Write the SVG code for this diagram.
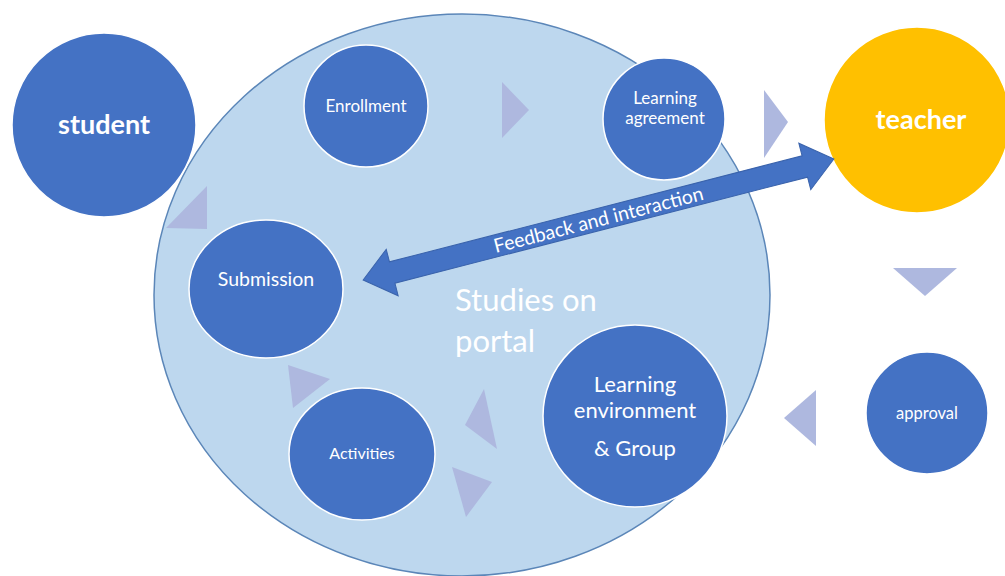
<svg xmlns="http://www.w3.org/2000/svg" width="1005" height="576" viewBox="0 0 1005 576">
  <style>
    .node { fill: #4472C4; stroke: #ffffff; stroke-width: 1.5; }
    .lbl { fill: #ffffff; font-family: Lato, "Open Sans", sans-serif; text-anchor: middle; }
    .step { fill: #AEB8DF; }
  </style>
  <rect width="1005" height="576" fill="#ffffff"/>

  <!-- portal area -->
  <g id="portal">
    <ellipse cx="462" cy="295" rx="308" ry="281" fill="#BDD7EE" stroke="#5B86B8" stroke-width="1.5"/>
    <text class="lbl" x="455" y="311" font-size="31" style="text-anchor:start">Studies on</text>
    <text class="lbl" x="455" y="352" font-size="31" style="text-anchor:start">portal</text>
  </g>

  <g id="student">
    <circle class="node" cx="104" cy="125" r="92"/>
    <text class="lbl" x="104" y="134" font-size="27" font-weight="bold">student</text>
  </g>

  <g id="teacher">
    <circle cx="917" cy="120" r="93" fill="#FFC000" stroke="#ffffff" stroke-width="1.5"/>
    <text class="lbl" x="921" y="129" font-size="27" font-weight="bold">teacher</text>
  </g>

  <g id="enrollment">
    <ellipse class="node" cx="366" cy="106" rx="62" ry="61"/>
    <text class="lbl" x="366" y="112" font-size="17">Enrollment</text>
  </g>

  <g id="learning-agreement">
    <circle class="node" cx="664" cy="119" r="61"/>
    <text class="lbl" x="665" y="104" font-size="17">Learning</text>
    <text class="lbl" x="665" y="124" font-size="17">agreement</text>
  </g>

  <g id="submission">
    <ellipse class="node" cx="266" cy="289" rx="77" ry="69"/>
    <text class="lbl" x="266" y="286" font-size="19.5">Submission</text>
  </g>

  <g id="activities">
    <ellipse class="node" cx="362" cy="454" rx="73" ry="66"/>
    <text class="lbl" x="362" y="459" font-size="16">Activities</text>
  </g>

  <g id="learning-environment">
    <ellipse class="node" cx="635" cy="416" rx="92" ry="91"/>
    <text class="lbl" x="635" y="392" font-size="22">Learning</text>
    <text class="lbl" x="635" y="418" font-size="22">environment</text>
    <text class="lbl" x="635" y="456" font-size="22">&amp; Group</text>
  </g>

  <g id="approval">
    <circle class="node" cx="927" cy="413" r="61"/>
    <text class="lbl" x="927" y="419" font-size="16.5">approval</text>
  </g>

  <!-- flow between steps -->
  <g id="connectors">
    <polygon class="step" points="502,82 529,110 502,138"/>
    <polygon class="step" points="764,90 788,122 764,158"/>
    <polygon class="step" points="893,268 957,268 925,296"/>
    <polygon class="step" points="816,390 784,418 816,446"/>
    <polygon class="step" points="484,389 465,425 497,449"/>
    <polygon class="step" points="452,467 492,482 466,517"/>
    <polygon class="step" points="288,365 330,379 293,408"/>
    <polygon class="step" points="207,186 207,229 166,228"/>

    <!-- two-way feedback arrow -->
    <g transform="translate(598.5,219.5) rotate(-14.41)">
      <polygon points="-243,0 -213,-24 -213,-11 213,-11 213,-24 243,0 213,24 213,11 -213,11 -213,24" fill="#4472C4" stroke="#3A63AC" stroke-width="1"/>
      <text class="lbl" x="0" y="7" font-size="19.5">Feedback and interaction</text>
    </g>
  </g>
</svg>
